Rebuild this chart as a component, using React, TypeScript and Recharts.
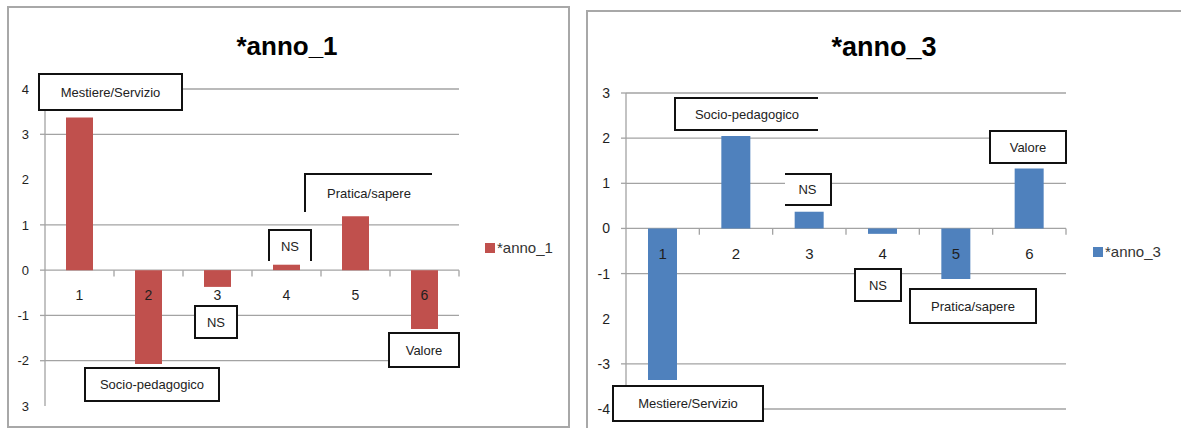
import { BarChart, Bar, XAxis, YAxis, CartesianGrid, ReferenceLine, ReferenceDot, Legend } from 'recharts';

const FONT = '"Liberation Sans", Arial, sans-serif';
const GRID = '#a3a3a3';
const TEXT = '#1f1f1f';

const categories = ['1', '2', '3', '4', '5', '6'];

const anno1Values = [3.37, -2.07, -0.37, 0.12, 1.19, -1.3];
const anno3Values = [-3.36, 2.05, 0.37, -0.12, -1.12, 1.33];

// tick labels as they appear in the picture (some minus signs are lost there)
const anno1Ticks = [-3, -2, -1, 0, 1, 2, 3, 4];
const anno1TickLabels = ['3', '-2', '-1', '0', '1', '2', '3', '4'];
const anno1Grid = [-2, -1, 0, 1, 3, 4];

const anno3Ticks = [-4, -3, -2, -1, 0, 1, 2, 3];
const anno3TickLabels = ['-4', '-3', '2', '-1', '0', '1', '2', '3'];
const anno3Grid = [-4, -3, -1, 0, 1, 2, 3];

const anno1Notes = ['Mestiere/Servizio', 'Socio-pedagogico', 'NS', 'NS', 'Pratica/sapere', 'Valore'];
const anno3Notes = ['Mestiere/Servizio', 'Socio-pedagogico', 'NS', 'NS', 'Pratica/sapere', 'Valore'];

type Box = { left: number; top: number; width: number; height: number; sides: string };

// callout boxes (page coordinates), same order as the note texts
const anno1Boxes: Box[] = [
  { left: 38, top: 73, width: 145, height: 38, sides: 'trbl' },
  { left: 84, top: 367, width: 136, height: 35, sides: 'trbl' },
  { left: 194, top: 305, width: 44, height: 34, sides: 'trbl' },
  { left: 268, top: 229, width: 44, height: 32, sides: 'trl' },
  { left: 304, top: 173, width: 128, height: 39, sides: 'tl' },
  { left: 388, top: 332, width: 72, height: 36, sides: 'trbl' },
];
const anno3Boxes: Box[] = [
  { left: 612, top: 385, width: 152, height: 37, sides: 'trbl' },
  { left: 674, top: 97, width: 144, height: 34, sides: 'tlb' },
  { left: 785, top: 173, width: 47, height: 33, sides: 'trb' },
  { left: 854, top: 268, width: 48, height: 34, sides: 'trbl' },
  { left: 909, top: 288, width: 128, height: 36, sides: 'trbl' },
  { left: 989, top: 130, width: 78, height: 34, sides: 'trbl' },
];

interface PanelProps {
  name: string;
  values: number[];
  color: string;
  ticks: number[];
  tickLabels: string[];
  grid: number[];
  left: number;
  width: number;
  margin: { top: number; right: number; bottom: number; left: number };
  yAxisWidth: number;
  barSize: number;
  tickFont: number;
  catFont: number;
  legendPos: { left: number; top: number };
}

const Panel = ({
  name, values, color, ticks, tickLabels, grid, left, width, margin,
  yAxisWidth, barSize, tickFont, catFont, legendPos
}: PanelProps) => {
  const data = categories.map((c, i) => ({ cat: c, value: values[i] }));
  const domain = [ticks[0], ticks[ticks.length - 1]];

  const renderTick = (props: any) => {
    const { x, y, payload } = props;
    const i = ticks.indexOf(payload.value);
    return (
      <g>
        {grid.includes(payload.value) && (
          <line x1={x - 5} y1={y} x2={x} y2={y} stroke={GRID} strokeWidth={1.3} />
        )}
        <text x={x - 16} y={y} dy="0.36em" textAnchor="end" fontSize={tickFont} fill={TEXT} fontFamily={FONT}>
          {tickLabels[i]}
        </text>
      </g>
    );
  };

  return (
    <div style={{ position: 'absolute', left, top: 0 }}>
      <BarChart width={width} height={428} data={data} margin={margin} style={{ fontFamily: FONT }}>
        <CartesianGrid vertical={false} horizontalValues={grid} stroke={GRID} strokeWidth={1.3} />
        <XAxis dataKey="cat" type="category" hide />
        <YAxis
          type="number"
          domain={domain}
          ticks={ticks}
          interval={0}
          width={yAxisWidth}
          axisLine={{ stroke: GRID, strokeWidth: 1.3 }}
          tickLine={false}
          tickSize={0}
          tickMargin={0}
          tick={renderTick}
        />
        {categories.map(c => (
          <ReferenceLine
            key={'t' + c}
            segment={[{ x: c, y: 0 }, { x: c, y: -0.14 }]}
            position="end"
            stroke={GRID}
            strokeWidth={1.3}
          />
        ))}
        <Bar dataKey="value" name={name} fill={color} barSize={barSize} isAnimationActive={false} />
        {categories.map(c => (
          <ReferenceDot
            key={'c' + c}
            x={c}
            y={0}
            r={0}
            fill="none"
            stroke="none"
            label={{ value: c, position: 'bottom', offset: 20, fontSize: catFont, fill: TEXT, fontFamily: FONT }}
          />
        ))}
        <Legend
          layout="vertical"
          align="center"
          verticalAlign="middle"
          wrapperStyle={{ left: legendPos.left, top: legendPos.top, width: 'auto' }}
          content={() => (
            <div style={{ display: 'flex', alignItems: 'center', whiteSpace: 'nowrap', fontFamily: FONT, fontSize: 15, color: '#333' }}>
              <span style={{ display: 'inline-block', width: 10, height: 10, background: color, marginRight: 2 }} />
              {name}
            </div>
          )}
        />
      </BarChart>
    </div>
  );
};

const Notes = ({ texts, boxes }: { texts: string[]; boxes: Box[] }) => (
  <>
    {boxes.map((b, i) => (
      <div
        key={i}
        style={{
          position: 'absolute',
          left: b.left,
          top: b.top,
          width: b.width,
          height: b.height,
          boxSizing: 'border-box',
          background: '#fff',
          borderTop: b.sides.includes('t') ? '2px solid #111' : 'none',
          borderRight: b.sides.includes('r') ? '2px solid #111' : 'none',
          borderBottom: b.sides.includes('b') ? '2px solid #111' : 'none',
          borderLeft: b.sides.includes('l') ? '2px solid #111' : 'none',
          display: 'flex',
          alignItems: 'center',
          justifyContent: 'center',
          fontFamily: FONT,
          fontSize: 13,
          color: '#222',
          whiteSpace: 'nowrap'
        }}
      >
        {texts[i]}
      </div>
    ))}
  </>
);

export default function App() {
  return (
    <div style={{ position: 'absolute', left: 0, top: 0, width: 1181, height: 428, overflow: 'hidden', background: '#fff' }}>
      <div style={{ position: 'absolute', left: 7, top: 6, width: 563, height: 422, boxSizing: 'border-box', border: '2px solid #a8a8a8' }} />
      <div style={{ position: 'absolute', left: 586, top: 10, width: 640, height: 460, boxSizing: 'border-box', border: '2px solid #a8a8a8' }} />

      <Panel
        name="*anno_1"
        values={anno1Values}
        color="#C0504D"
        ticks={anno1Ticks}
        tickLabels={anno1TickLabels}
        grid={anno1Grid}
        left={0}
        width={568}
        margin={{ top: 89, right: 109, bottom: 22, left: 0 }}
        yAxisWidth={45}
        barSize={27}
        tickFont={13}
        catFont={14}
        legendPos={{ left: 485, top: 239 }}
      />
      <Panel
        name="*anno_3"
        values={anno3Values}
        color="#4F81BD"
        ticks={anno3Ticks}
        tickLabels={anno3TickLabels}
        grid={anno3Grid}
        left={590}
        width={591}
        margin={{ top: 93, right: 115, bottom: 19, left: 0 }}
        yAxisWidth={36}
        barSize={29}
        tickFont={14}
        catFont={15}
        legendPos={{ left: 503, top: 243 }}
      />

      <div style={{ position: 'absolute', left: 187, top: 33, width: 200, textAlign: 'center', fontFamily: FONT, fontWeight: 'bold', fontSize: 26, lineHeight: '26px', color: '#000' }}>
        *anno_1
      </div>
      <div style={{ position: 'absolute', left: 784, top: 34, width: 200, textAlign: 'center', fontFamily: FONT, fontWeight: 'bold', fontSize: 27, lineHeight: '27px', color: '#000' }}>
        *anno_3
      </div>

      <Notes texts={anno1Notes} boxes={anno1Boxes} />
      <Notes texts={anno3Notes} boxes={anno3Boxes} />
    </div>
  );
}
